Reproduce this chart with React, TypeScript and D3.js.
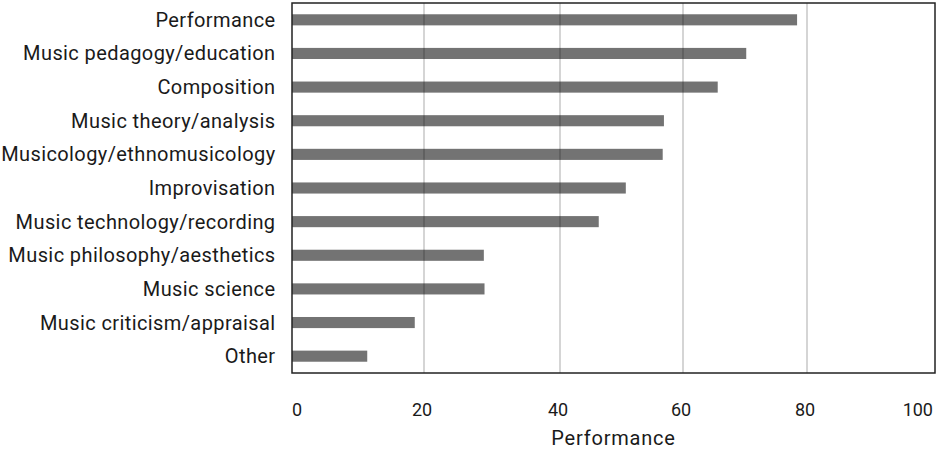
import React from "react";
import * as d3 from "d3";

const categories = [
  "Performance",
  "Music pedagogy/education",
  "Composition",
  "Music theory/analysis",
  "Musicology/ethnomusicology",
  "Improvisation",
  "Music technology/recording",
  "Music philosophy/aesthetics",
  "Music science",
  "Music criticism/appraisal",
  "Other",
];
const values = [78.4, 70.2, 65.6, 56.9, 56.7, 50.7, 46.3, 28.8, 28.9, 18.6, 11.4];
const xTicks = [0, 20, 40, 60, 80, 100];
const axisTitle = "Performance";

const W = 939;
const H = 450;
const FONT = "Roboto, 'Noto Sans', sans-serif";

export default function App() {
  const left = 292;
  const right = 935;
  const top = 3;
  const bottom = 373;
  // axis as drawn in the reference: tick spacing is slightly irregular
  const x = d3
    .scaleLinear()
    .domain(xTicks)
    .range([left, 424, 560, 683, 807, right]);
  const y = d3
    .scaleBand<string>()
    .domain(categories)
    .range([top, bottom])
    .paddingInner(0.67)
    .paddingOuter(0.335);

  return (
    <div style={{ position: "absolute", left: 0, top: 0 }}>
      <svg width={W} height={H} style={{ display: "block", background: "#fff" }}>
        {categories.map((c, i) => (
          <rect
            key={c}
            x={x(0)}
            y={y(c)}
            width={x(values[i]) - x(0)}
            height={y.bandwidth()}
            fill="#737373"
          />
        ))}
        {xTicks.slice(1, -1).map((t) => (
          <line
            key={t}
            x1={x(t)}
            x2={x(t)}
            y1={top}
            y2={bottom}
            stroke="rgba(0,0,0,0.22)"
            strokeWidth={1.5}
          />
        ))}
        <rect
          x={left}
          y={top}
          width={right - left}
          height={bottom - top}
          fill="none"
          stroke="#222"
          strokeWidth={1.5}
        />
        {categories.map((c) => (
          <text
            key={c}
            x={275.5}
            y={(y(c) ?? 0) + y.bandwidth() / 2}
            dy="0.35em"
            textAnchor="end"
            fontFamily={FONT}
            fontSize={20}
            letterSpacing={0.4}
            fill="#1a1a1a"
          >
            {c}
          </text>
        ))}
        {xTicks.map((t, i) => (
          <text
            key={t}
            x={i === 0 ? x(t) : x(t) - 2}
            y={416}
            textAnchor={i === 0 ? "start" : i === xTicks.length - 1 ? "end" : "middle"}
            fontFamily={FONT}
            fontSize={18}
            fill="#1a1a1a"
          >
            {t}
          </text>
        ))}
        <text
          x={(left + right) / 2}
          y={445}
          textAnchor="middle"
          fontFamily={FONT}
          fontSize={20}
          letterSpacing={0.8}
          fill="#1a1a1a"
        >
          {axisTitle}
        </text>
      </svg>
    </div>
  );
}
